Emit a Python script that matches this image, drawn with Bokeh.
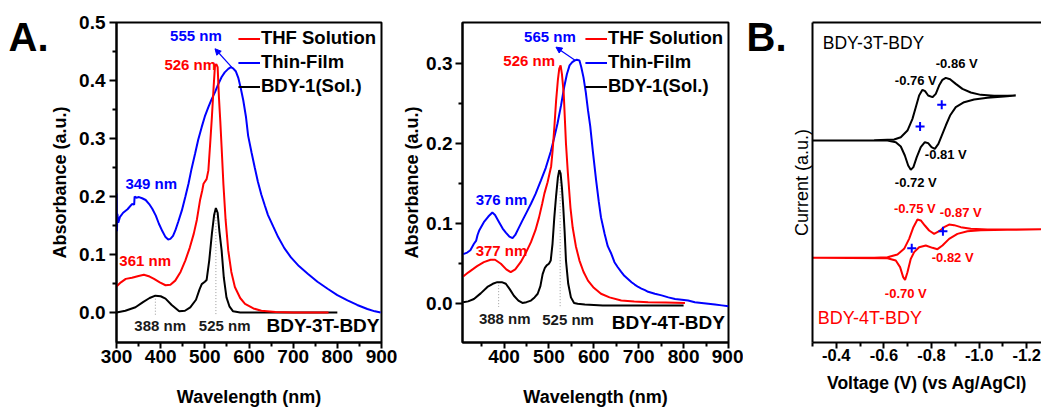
from bokeh.plotting import figure
from bokeh.layouts import row
from bokeh.models import (Range1d, FixedTicker, PrintfTickFormatter, Legend, LegendItem,
                          Label, Arrow, NormalHead, LinearAxis)
from bokeh.core.properties import value
from bokeh.embed import file_html
from bokeh.resources import INLINE

FONT = "Liberation Sans"
RED = "#ff0000"
BLUE = "#0000ff"
BLACK = "#000000"

# ---------------- Panel A (left): BDY-3T-BDY absorption ----------------
wl_3t_sol = [300, 310, 321, 335, 350, 362, 375, 385, 398, 411, 422, 433, 445, 456, 466, 475, 482, 489, 494, 497,
             504, 508, 512, 516, 520, 523, 526, 529, 532, 535, 538, 542, 547, 553, 560, 568, 580, 591, 610, 628,
             660, 700, 780]
abs_3t_sol = [0.045, 0.052, 0.058, 0.060, 0.063, 0.065, 0.062, 0.058, 0.052, 0.047, 0.048, 0.055, 0.070, 0.090,
              0.112, 0.136, 0.160, 0.193, 0.210, 0.222, 0.230, 0.245, 0.290, 0.337, 0.390, 0.426, 0.428, 0.423,
              0.370, 0.330, 0.285, 0.222, 0.160, 0.107, 0.070, 0.044, 0.025, 0.015, 0.007, 0.003, 0.001, 0.0, 0.0]

wl_3t_film = [300, 301, 302, 304, 308, 315, 325, 335, 340, 341, 345, 351, 358, 366, 374, 381, 389, 396, 404, 411,
              417, 422, 428, 433, 440, 448, 456, 463, 470, 478, 485, 493, 500, 508, 515, 523, 530, 538, 545, 553,
              559, 564, 570, 576, 581, 587, 593, 598, 606, 613, 620, 628, 636, 643, 655, 666, 680, 695, 713, 733,
              755, 778, 800, 823, 845, 868, 885, 898]
abs_3t_film = [0.205, 0.140, 0.170, 0.155, 0.165, 0.172, 0.178, 0.187, 0.186, 0.200, 0.198, 0.199, 0.197, 0.194,
               0.187, 0.179, 0.167, 0.153, 0.140, 0.130, 0.126, 0.127, 0.132, 0.141, 0.157, 0.176, 0.200, 0.222,
               0.248, 0.274, 0.298, 0.320, 0.338, 0.354, 0.367, 0.380, 0.393, 0.406, 0.414, 0.420, 0.423, 0.421,
               0.416, 0.404, 0.388, 0.366, 0.338, 0.305, 0.275, 0.250, 0.226, 0.203, 0.184, 0.168, 0.148, 0.130,
               0.111, 0.095, 0.080, 0.067, 0.053, 0.041, 0.030, 0.021, 0.013, 0.006, 0.002, 0.0]

wl_3t_ref = [300, 320, 343, 360, 375, 388, 400, 411, 425, 442, 455, 467, 480, 488, 493, 500, 504, 510, 516, 521,
             525, 529, 533, 538, 543, 549, 556, 564, 580, 650, 800]
abs_3t_ref = [0.0, 0.003, 0.009, 0.018, 0.025, 0.029, 0.028, 0.024, 0.013, 0.002, 0.003, 0.009, 0.022, 0.040,
              0.049, 0.053, 0.056, 0.090, 0.136, 0.168, 0.180, 0.172, 0.140, 0.107, 0.060, 0.026, 0.010, 0.002,
              0.0, 0.0, 0.0]
ref_peak_wl_3t = [388, 525]
ref_peak_abs_3t = [0.029, 0.180]

# ---------------- Panel A (right): BDY-4T-BDY absorption ----------------
wl_4t_sol = [309, 320, 330, 340, 355, 370, 380, 393, 405, 415, 425, 437, 448, 460, 470, 478, 485, 490, 497, 501,
             505, 508, 512, 516, 520, 523, 526, 529, 533, 538, 542, 548, 553, 560, 568, 577, 587, 600, 616, 635,
             661, 690, 721, 760, 803]
abs_4t_sol = [0.034, 0.039, 0.043, 0.047, 0.052, 0.055, 0.055, 0.050, 0.043, 0.0395, 0.043, 0.052, 0.063, 0.077,
              0.092, 0.108, 0.125, 0.138, 0.152, 0.162, 0.172, 0.190, 0.220, 0.254, 0.280, 0.294, 0.298, 0.287,
              0.2625, 0.200, 0.165, 0.120, 0.095, 0.072, 0.054, 0.040, 0.029, 0.020, 0.0125, 0.008, 0.004, 0.003,
              0.002, 0.0015, 0.001]

wl_4t_film = [309, 318, 325, 333, 338, 341, 345, 355, 365, 374, 380, 389, 397, 404, 412, 419, 425, 432, 440, 450,
              460, 470, 482, 493, 504, 512, 519, 527, 534, 540, 546, 552, 557, 562, 568, 572, 577, 582, 587, 592,
              598, 605, 611, 616, 624, 631, 639, 646, 653, 661, 668, 676, 684, 691, 699, 706, 714, 721, 736, 751,
              766, 781, 796, 810, 825, 840, 855, 870, 885, 900]
abs_4t_film = [0.062, 0.064, 0.067, 0.075, 0.079, 0.086, 0.092, 0.102, 0.109, 0.114, 0.111, 0.102, 0.094, 0.089,
               0.084, 0.082, 0.086, 0.094, 0.103, 0.114, 0.125, 0.137, 0.154, 0.170, 0.190, 0.208, 0.225, 0.248,
               0.271, 0.287, 0.298, 0.302, 0.304, 0.305, 0.304, 0.296, 0.283, 0.265, 0.242, 0.222, 0.190, 0.155,
               0.128, 0.108, 0.0875, 0.072, 0.0625, 0.052, 0.046, 0.040, 0.035, 0.031, 0.027, 0.024, 0.021, 0.019,
               0.017, 0.015, 0.0125, 0.0105, 0.008, 0.006, 0.005, 0.004, 0.002, 0.001, 0.0, -0.001, -0.002, -0.003]

wl_4t_ref = [309, 320, 333, 348, 363, 375, 385, 395, 404, 413, 422, 432, 441, 450, 460, 468, 475, 481, 486, 491,
             495, 500, 504, 508, 512, 516, 520, 523, 526, 529, 532, 535, 538, 543, 549, 556, 564, 580, 620, 700, 800]
abs_4t_ref = [0.002, 0.003, 0.006, 0.013, 0.021, 0.025, 0.027, 0.027, 0.025, 0.018, 0.010, 0.004, 0.001, 0.002,
              0.004, 0.008, 0.0125, 0.022, 0.037, 0.045, 0.048, 0.050, 0.054, 0.075, 0.108, 0.135, 0.158, 0.167,
              0.163, 0.145, 0.120, 0.090, 0.054, 0.025, 0.008, 0.001, 0.0, -0.001, -0.002, -0.002, -0.002]
ref_peak_wl_4t = [388, 525]
ref_peak_abs_4t = [0.027, 0.167]

# ---------------- Panel B: cyclic voltammetry ----------------
cv_v_3t = [-0.300, -0.419, -0.559, -0.643, -0.671, -0.699, -0.720, -0.734, -0.748, -0.762, -0.773, -0.786, -0.804,
           -0.818, -0.832, -0.846, -0.860, -0.878, -0.902, -0.930, -0.965, -1.007, -1.063, -1.119, -1.154,
           -1.105, -1.035, -0.979, -0.937, -0.902, -0.878, -0.860, -0.843, -0.829, -0.814, -0.800, -0.786,
           -0.772, -0.755, -0.738, -0.724, -0.713, -0.702, -0.688, -0.671, -0.650, -0.615, -0.300]
cv_i_3t = [6.231, 6.231, 6.242, 6.263, 6.338, 6.552, 6.927, 7.302, 7.677, 7.859, 7.816, 7.677, 7.623, 7.730,
           7.998, 8.180, 8.244, 8.201, 8.051, 7.891, 7.773, 7.698, 7.666, 7.666, 7.677,
           7.645, 7.602, 7.548, 7.463, 7.302, 7.034, 6.713, 6.392, 6.124, 5.964, 6.017, 6.146, 6.178, 6.017,
           5.696, 5.375, 5.289, 5.428, 5.749, 6.039, 6.178, 6.231, 6.231]

cv_v_4t = [-0.300, -0.559, -0.615, -0.657, -0.685, -0.706, -0.724, -0.741, -0.755, -0.772, -0.790, -0.811, -0.832,
           -0.853, -0.874, -0.895, -0.923, -0.965, -1.035, -1.119, -1.300,
           -1.119, -1.007, -0.951, -0.909, -0.874, -0.846, -0.825, -0.804, -0.776, -0.748, -0.727, -0.713,
           -0.699, -0.689, -0.681, -0.668, -0.650, -0.615, -0.300]
cv_i_4t = [2.463, 2.463, 2.484, 2.570, 2.752, 3.073, 3.448, 3.694, 3.662, 3.501, 3.340, 3.233, 3.319, 3.448,
           3.533, 3.512, 3.448, 3.394, 3.373, 3.373, 3.383,
           3.362, 3.351, 3.319, 3.233, 3.073, 2.859, 2.741, 2.784, 2.859, 2.805, 2.645, 2.430, 2.002, 1.756,
           1.842, 2.163, 2.377, 2.452, 2.463]

half_v_3t = [-0.752, -0.843]
half_i_3t = [6.681, 7.377]
half_v_4t = [-0.717, -0.848]
half_i_4t = [2.773, 3.319]

legend_labels = ["THF Solution", "Thin-Film", "BDY-1(Sol.)"]
panel_letters = ["A.", "B."]

TOP = 22
BOTTOM = 68


def make_fig(width, xr, yr, bl, br):
    p = figure(width=width, height=410, x_range=xr, y_range=yr, output_backend="svg",
               toolbar_location=None, min_border_left=bl, min_border_right=br,
               min_border_top=TOP, min_border_bottom=BOTTOM)
    p.xgrid.visible = False
    p.ygrid.visible = False
    p.outline_line_color = BLACK
    p.outline_line_width = 2
    p.outline_line_alpha = 1
    return p


def letter_fig(width, letter, x_left):
    # y range runs from the frame bottom (page y 342) to its top (page y 22)
    f = figure(width=width, height=410, x_range=Range1d(0, width), y_range=Range1d(342, 22),
               output_backend="svg", toolbar_location=None, min_border_left=0, min_border_right=0,
               min_border_top=TOP, min_border_bottom=BOTTOM,
               x_axis_location=None, y_axis_location=None)
    f.outline_line_color = None
    f.xgrid.visible = False
    f.ygrid.visible = False
    f.text(x=[x_left], y=[36], text=[letter], text_font=value(FONT), text_font_style="bold",
           text_font_size="40px", text_color=BLACK, text_align="left", text_baseline="middle")
    return f


def style_axis(ax, label, ticks, minor, fmt, tick_out, standoff, label_standoff,
               tick_size="19px", label_size="18px", label_style="bold"):
    ax.axis_label = label
    ax.ticker = FixedTicker(ticks=ticks, minor_ticks=minor)
    ax.formatter = PrintfTickFormatter(format=fmt)
    ax.axis_line_width = 2
    ax.axis_line_color = BLACK
    ax.major_tick_line_width = 2
    ax.minor_tick_line_width = 2
    ax.major_tick_in = 0
    ax.major_tick_out = tick_out
    ax.minor_tick_in = 0
    ax.minor_tick_out = 4
    ax.major_label_standoff = standoff
    ax.axis_label_standoff = label_standoff
    ax.major_label_text_font = FONT
    ax.major_label_text_font_style = "bold"
    ax.major_label_text_font_size = tick_size
    ax.major_label_text_color = BLACK
    ax.axis_label_text_font = FONT
    ax.axis_label_text_font_style = label_style
    ax.axis_label_text_font_size = label_size
    ax.axis_label_text_color = BLACK


def add_text(p, x, y, text, color, size, style="bold", align="center", baseline="middle"):
    p.add_layout(Label(x=x, y=y, text=text, text_color=color, text_font=FONT, text_font_size=size,
                       text_font_style=style, text_align=align, text_baseline=baseline))


def spectra_panel(width, xr, yr, bl, br, xticks, xminor, yticks, yminor,
                  sol, film, ref, peaks, y_standoff, y_label_standoff):
    p = make_fig(width, xr, yr, bl, br)
    style_axis(p.xaxis[0], "Wavelength (nm)", xticks, xminor, "%d", 6, 1, 21)
    style_axis(p.yaxis[0], "Absorbance (a.u.)", yticks, yminor, "%.1f", 7, y_standoff, y_label_standoff)
    p.segment(x0=peaks[0], y0=peaks[1], x1=peaks[0], y1=[-0.004] * len(peaks[0]),
              line_color="#9a9a9a", line_width=1, line_dash="1 2")
    r_ref = p.line(ref[0], ref[1], line_color=BLACK, line_width=2)
    r_film = p.line(film[0], film[1], line_color=BLUE, line_width=2)
    r_sol = p.line(sol[0], sol[1], line_color=RED, line_width=2)
    leg = Legend(items=[LegendItem(label=legend_labels[0], renderers=[r_sol]),
                        LegendItem(label=legend_labels[1], renderers=[r_film]),
                        LegendItem(label=legend_labels[2], renderers=[r_ref])],
                 location="top_right", orientation="vertical", glyph_width=22, glyph_height=21,
                 label_height=21, label_standoff=1, spacing=2, padding=0, margin=5,
                 border_line_color=None, background_fill_alpha=0,
                 label_text_font=FONT, label_text_font_style="bold", label_text_font_size="18.5px",
                 label_text_color=BLACK)
    p.add_layout(leg)
    return p


# ---- "A." ----
fa = letter_fig(47, panel_letters[0], 8)

# ---- figure 1 ----
p1 = spectra_panel(350, Range1d(300, 900), Range1d(-0.0517, 0.5), 67, 16,
                   [300, 400, 500, 600, 700, 800, 900], [350, 450, 550, 650, 750, 850],
                   [0.0, 0.1, 0.2, 0.3, 0.4, 0.5], [0.05, 0.15, 0.25, 0.35, 0.45],
                   (wl_3t_sol, abs_3t_sol), (wl_3t_film, abs_3t_film), (wl_3t_ref, abs_3t_ref),
                   (ref_peak_wl_3t, ref_peak_abs_3t), 4, 6)
add_text(p1, 479.8, 0.4776, "555 nm", BLUE, "15px")
add_text(p1, 467, 0.4276, "526 nm", RED, "15px")
add_text(p1, 378.7, 0.2224, "349 nm", BLUE, "15px")
add_text(p1, 365, 0.0897, "361 nm", RED, "15px")
add_text(p1, 398.9, -0.0224, "388 nm", "#1a1a1a", "15px")
add_text(p1, 545, -0.0224, "525 nm", "#1a1a1a", "15px")
add_text(p1, 895.5, -0.0224, "BDY-3T-BDY", BLACK, "19px", align="right")
p1.add_layout(Arrow(end=NormalHead(size=6, fill_color=BLUE, line_color=BLUE, line_width=1),
                    x_start=560.7, y_start=0.423, x_end=523, y_end=0.4547,
                    line_color=BLUE, line_width=1.2))

# ---- figure 2 ----
p2 = spectra_panel(346, Range1d(307.5, 900), Range1d(-0.0484, 0.3516), 65, 15,
                   [400, 500, 600, 700, 800, 900], [350, 450, 550, 650, 750, 850],
                   [0.0, 0.1, 0.2, 0.3], [0.05, 0.15, 0.25],
                   (wl_4t_sol, abs_4t_sol), (wl_4t_film, abs_4t_film), (wl_4t_ref, abs_4t_ref),
                   (ref_peak_wl_4t, ref_peak_abs_4t), 3, 1)
add_text(p2, 502.3, 0.334, "565 nm", BLUE, "15px")
add_text(p2, 456, 0.304, "526 nm", RED, "15px")
add_text(p2, 394.4, 0.130, "376 nm", BLUE, "15px")
add_text(p2, 394.4, 0.0666, "377 nm", RED, "15px")
add_text(p2, 401.6, -0.0184, "388 nm", "#1a1a1a", "15px")
add_text(p2, 542.6, -0.0196, "525 nm", "#1a1a1a", "15px")
add_text(p2, 891.8, -0.0234, "BDY-4T-BDY", BLACK, "19px", align="right")
p2.add_layout(Arrow(end=NormalHead(size=6, fill_color=BLUE, line_color=BLUE, line_width=1),
                    x_start=559, y_start=0.304, x_end=515.7, y_end=0.3208,
                    line_color=BLUE, line_width=1.2))

# ---- "B." ----
fb = letter_fig(43, panel_letters[1], 3)

# ---- figure 3 (B) ----
p3 = make_fig(255, Range1d(-0.3, -1.2622), Range1d(-0.257, 10.022), 26, 0)
p3.outline_line_color = None
style_axis(p3.xaxis[0], "Voltage (V) (vs Ag/AgCl)", [-0.4, -0.6, -0.8, -1.0, -1.2],
           [-0.3, -0.5, -0.7, -0.9, -1.1], "%.1f", 6, 0, 9, tick_size="16.5px", label_size="17.5px")
yax = p3.yaxis[0]
yax.axis_label = "Current (a.u.)"
yax.ticker = FixedTicker(ticks=[])
yax.major_tick_out = 0
yax.minor_tick_out = 0
yax.major_label_standoff = 0
yax.axis_label_standoff = 1
yax.axis_line_width = 2
yax.axis_label_text_font = FONT
yax.axis_label_text_font_style = "normal"
yax.axis_label_text_font_size = "18px"
yax.axis_label_text_color = BLACK
top_axis = LinearAxis(ticker=FixedTicker(ticks=[]), major_tick_out=0, minor_tick_out=0,
                      major_label_text_font_size="0px", axis_line_width=2, major_label_standoff=0)
p3.add_layout(top_axis, "above")

p3.line(cv_v_3t, cv_i_3t, line_color=BLACK, line_width=2)
p3.line(cv_v_4t, cv_i_4t, line_color=RED, line_width=2)
p3.scatter(half_v_3t, half_i_3t, marker="cross", size=9, line_color=BLUE, line_width=2)
p3.scatter(half_v_4t, half_i_4t, marker="cross", size=9, line_color=BLUE, line_width=2)

add_text(p3, -0.343, 9.348, "BDY-3T-BDY", BLACK, "17.5px", style="normal", align="left")
add_text(p3, -0.906, 8.705, "-0.86 V", BLACK, "13px")
add_text(p3, -0.734, 8.159, "-0.76 V", BLACK, "13px")
add_text(p3, -0.860, 5.782, "-0.81 V", BLACK, "13px")
add_text(p3, -0.734, 4.883, "-0.72 V", BLACK, "13px")
add_text(p3, -0.730, 4.048, "-0.75 V", RED, "13px")
add_text(p3, -0.923, 3.919, "-0.87 V", RED, "13px")
add_text(p3, -0.889, 2.473, "-0.82 V", RED, "13px")
add_text(p3, -0.692, 1.317, "-0.70 V", RED, "13px")
add_text(p3, -0.322, 0.514, "BDY-4T-BDY", RED, "18px", style="normal", align="left")

layout = row(fa, p1, p2, fb, p3)
open("out.html", "w").write(file_html(layout, INLINE))
